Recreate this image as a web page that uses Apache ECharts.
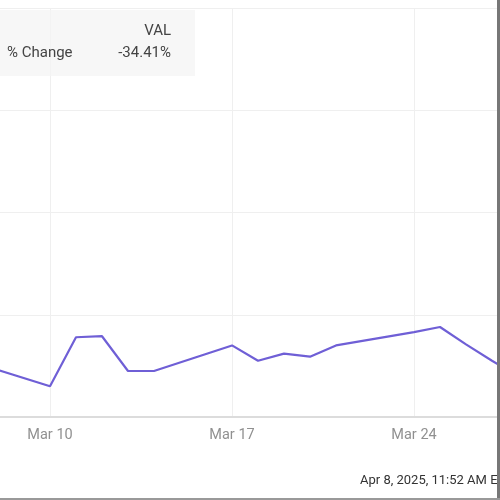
<!DOCTYPE html>
<html>
<head>
<meta charset="utf-8">
<script src="https://cdn.jsdelivr.net/npm/echarts@6/dist/echarts.min.js"></script>
<style>
html,body{margin:0;padding:0;background:#fff;}
#chart{width:500px;height:500px;}
</style>
</head>
<body>
<div id="chart"></div>
<script>
// Data (VAL % change, March 2025)
const dates = ['2025-03-07','2025-03-10','2025-03-11','2025-03-12','2025-03-13','2025-03-14',
  '2025-03-17','2025-03-18','2025-03-19','2025-03-20','2025-03-21',
  '2025-03-24','2025-03-25','2025-03-26','2025-03-27','2025-03-28'];
const pctChange = [-24.6,-27.0,-22.2,-22.1,-25.5,-25.5,
  -23.0,-24.5,-23.8,-24.1,-23.0,
  -21.7,-21.2,-22.9,-24.5,-26.0];
const xTicks = [3,10,17,24,31]; // day of March
const yTicks = [-30,-20,-10,0,10];
const legendTicker = 'VAL';
const legendLabel = '% Change';
const legendValue = '-34.41%';
const stamp = 'Apr 8, 2025, 11:52 AM EDT';

const dayOfMarch = d => Number(d.slice(8,10)) + (Number(d.slice(5,7)) - 3) * 31;
const seriesData = dates.map((d,i) => [dayOfMarch(d), pctChange[i]]);

const chart = echarts.init(document.getElementById('chart'));
chart.setOption({
  animation:false,
  backgroundColor:'#fff',
  grid:{left:-132, right:-96, top:8, bottom:83, containLabel:false, outerBoundsMode:'none'},
  xAxis:{
    type:'value', min:xTicks[0], max:xTicks[xTicks.length-1], interval:7,
    axisLine:{show:true, onZero:false, lineStyle:{color:'#dcdcdc', width:2}},
    axisTick:{show:false},
    splitLine:{show:true, lineStyle:{color:'#efefef', width:1}},
    axisLabel:{color:'#909090', fontSize:14.5, fontFamily:'Roboto', margin:11,
      formatter:v => 'Mar ' + v}
  },
  yAxis:{
    type:'value', min:yTicks[0], max:yTicks[yTicks.length-1], interval:10,
    axisLine:{show:false}, axisTick:{show:false},
    axisLabel:{show:false},
    splitLine:{show:true, lineStyle:{color:'#efefef', width:1}}
  },
  series:[{
    type:'line', data:seriesData, showSymbol:false, clip:true,
    lineStyle:{color:'#6f5fd6', width:2.2}
  }],
  graphic:[
    {type:'rect', shape:{x:-5, y:10, width:200, height:66},
      style:{fill:'rgba(244,244,244,0.75)'}, z:10},
    {type:'text', x:171, y:31, style:{text:legendTicker, fill:'#444', font:'15px Roboto',
      align:'right', verticalAlign:'middle'}, z:11},
    {type:'text', x:171, y:53, style:{text:legendValue, fill:'#444', font:'15px Roboto',
      align:'right', verticalAlign:'middle'}, z:11},
    {type:'text', x:7, y:53, style:{text:legendLabel, fill:'#444', font:'15px Roboto',
      align:'left', verticalAlign:'middle'}, z:11},
    {type:'text', x:360, y:481, style:{text:stamp, fill:'#333', font:'13px Roboto',
      align:'left', verticalAlign:'middle'}, z:11},
    {type:'rect', shape:{x:497, y:0, width:3, height:500}, style:{fill:'#777'}, z:12},
    {type:'rect', shape:{x:0, y:498, width:500, height:2}, style:{fill:'#999'}, z:12}
  ]
});
</script>
</body>
</html>
